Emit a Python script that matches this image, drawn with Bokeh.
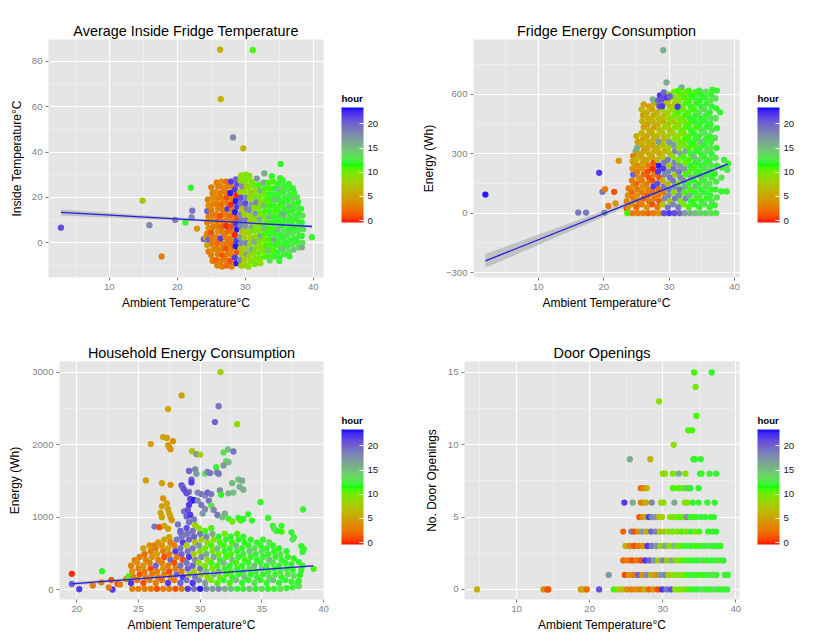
from bokeh.embed import file_html
from bokeh.resources import INLINE
from bokeh.plotting import figure
from bokeh.layouts import column, row
from bokeh.models import ColumnDataSource, ColorBar, LinearColorMapper, FixedTicker
from bokeh.transform import transform

FONT = "Liberation Sans"

# (ambient temperature, value, hour)
inside_temp_pts = [
    (26.3, 85.2, 6), (31.1, 85, 11), (26.4, 63.4, 6), (28.2, 46.5, 18), (29.7, 41.7, 6),
    (14.9, 18.6, 7), (22, 24.3, 12), (22.2, 14.2, 19), (22.1, 11.2, 18), (19.7, 10.1, 18),
    (21.2, 9, 12), (15.9, 7.8, 18), (2.9, 6.7, 21), (17.7, -6, 3), (22.9, 6.3, 4),
    (23.9, 1.6, 20), (24.2, 2.3, 5), (39.8, 2.5, 12), (35.2, 34.8, 12), (33.9, 29.4, 12),
    (32.8, 30.6, 16), (31.7, 28.3, 17), (30.1, 30.1, 10), (29.4, 29.8, 9), (30.6, 29.5, 9),
    (24.6, -3.8, 3), (24.4, -1, 5), (24.6, 1.5, 20), (24.4, 4, 3), (24.6, 6.5, 4),
    (24.4, 9, 3), (24.6, 11.5, 3), (24.4, 14, 20), (24.6, 16.5, 4), (24.5, 19, 3),
    (25.2, -8, 3), (25.0, -5.5, 3), (25.3, -3, 4), (25.1, -0.5, 3), (25.2, 2, 3),
    (25.0, 4.5, 1), (25.3, 7, 3), (25.1, 9.5, 4), (25.2, 12, 3), (25.0, 14.5, 3),
    (25.3, 17, 3), (25.1, 19.5, 4), (25.2, 22, 3), (25.0, 24.5, 3),
    (25.9, -10, 3), (25.7, -7.5, 2), (26, -5, 3), (25.8, -2.5, 3), (25.9, 0, 2),
    (25.7, 2.5, 3), (26, 5, 4), (25.8, 7.5, 3), (25.9, 10, 2), (25.7, 12.5, 3),
    (26, 15, 3), (25.8, 17.5, 3), (25.9, 20, 3), (25.7, 22.5, 4), (26, 25, 3), (25.8, 26.5, 3),
    (26.6, -10.5, 3), (26.4, -8, 3), (26.7, -5.5, 1), (26.5, -3, 3), (26.6, -0.5, 3),
    (26.4, 2, 22), (26.7, 4.5, 3), (26.5, 7, 2), (26.6, 9.5, 3), (26.4, 12, 1),
    (26.7, 14.5, 3), (26.5, 17, 2), (26.6, 19.5, 3), (26.4, 22, 3), (26.7, 24.5, 3), (26.5, 27, 4),
    (27.3, -10, 2), (27.1, -7.5, 3), (27.4, -5, 3), (27.2, -2.5, 1), (27.3, 0, 3),
    (27.1, 2.5, 3), (27.4, 5, 2), (27.2, 7.5, 0), (27.3, 10, 3), (27.1, 12.5, 3),
    (27.4, 15, 22), (27.2, 17.5, 3), (27.3, 20, 1), (27.1, 22.5, 3), (27.4, 25, 3), (27.2, 27, 2),
    (28, -10.5, 3), (27.8, -8, 1), (28.1, -5.5, 3), (27.9, -3, 3), (28, -0.5, 2),
    (27.8, 2, 3), (28.1, 4.5, 3), (27.9, 7, 1), (28, 9.5, 3), (27.8, 12, 2),
    (28.1, 14.5, 3), (27.9, 17, 0), (28, 19.5, 3), (27.8, 22, 23), (28.1, 24.5, 3), (27.9, 27, 22),
    (28.7, -9, 23), (28.5, -6.5, 22), (28.8, -4, 1), (28.6, -1.5, 23), (28.7, 1, 22),
    (28.5, 3.5, 0), (28.8, 6, 23), (28.6, 8.5, 22), (28.7, 11, 1), (28.5, 13.5, 23),
    (28.8, 16, 22), (28.6, 18.5, 23), (28.7, 21, 0), (28.5, 23.5, 22), (28.8, 26, 21), (28.6, 28, 20),
    (29.4, -10, 7), (29.2, -7.5, 18), (29.5, -5, 8), (29.3, -2.5, 7), (29.4, 0, 18),
    (29.2, 2.5, 17), (29.5, 5, 7), (29.3, 7.5, 18), (29.4, 10, 19), (29.2, 12.5, 18),
    (29.5, 15, 7), (29.3, 17.5, 19), (29.4, 20, 21), (29.2, 22.5, 8), (29.5, 25, 18), (29.3, 27.5, 9),
    (30.1, -10, 9), (29.9, -7.5, 8), (30.2, -5, 17), (30, -2.5, 8), (30.1, 0, 18),
    (29.9, 2.5, 8), (30.2, 5, 7), (30, 7.5, 17), (30.1, 10, 19), (29.9, 12.5, 8),
    (30.2, 15, 18), (30, 17.5, 21), (30.1, 20, 18), (29.9, 22.5, 9), (30.2, 25, 8), (30, 27.5, 10),
    (30.8, -8, 9), (30.6, -5.5, 8), (30.9, -3, 16), (30.7, -0.5, 9), (30.8, 2, 8),
    (30.6, 4.5, 9), (30.9, 7, 16), (30.7, 9.5, 8), (30.8, 12, 9), (30.6, 14.5, 18),
    (30.9, 17, 17), (30.7, 19.5, 9), (30.8, 22, 8), (30.6, 24.5, 9), (30.9, 27, 10),
    (31.5, -7, 10), (31.3, -4.5, 9), (31.6, -2, 9), (31.4, 0.5, 16), (31.5, 3, 9),
    (31.3, 5.5, 10), (31.6, 8, 9), (31.4, 10.5, 9), (31.5, 13, 17), (31.3, 15.5, 9),
    (31.6, 18, 18), (31.4, 20.5, 10), (31.5, 23, 9), (31.3, 25.5, 10),
    (32.2, -7, 10), (32, -4.5, 10), (32.3, -2, 9), (32.1, 0.5, 10), (32.2, 3, 16),
    (32, 5.5, 10), (32.3, 8, 10), (32.1, 10.5, 16), (32.2, 13, 10), (32, 15.5, 10),
    (32.3, 18, 9), (32.1, 20.5, 10), (32.2, 23, 16), (32, 25.5, 11),
    (32.9, -6, 11), (32.7, -3.5, 10), (33, -1, 11), (32.8, 1.5, 10), (32.9, 4, 11),
    (32.7, 6.5, 15), (33, 9, 11), (32.8, 11.5, 10), (32.9, 14, 11), (32.7, 16.5, 15),
    (33, 19, 11), (32.8, 21.5, 10), (32.9, 24, 11), (32.7, 26.5, 16),
    (33.6, -6, 11), (33.4, -3.5, 15), (33.7, -1, 11), (33.5, 1.5, 11), (33.6, 4, 12),
    (33.4, 6.5, 11), (33.7, 9, 11), (33.5, 11.5, 15), (33.6, 14, 12), (33.4, 16.5, 11),
    (33.7, 19, 11), (33.5, 21.5, 12), (33.6, 24, 11), (33.4, 26.5, 11),
    (34.3, -6, 12), (34.1, -3.5, 11), (34.4, -1, 12), (34.2, 1.5, 16), (34.3, 4, 12),
    (34.1, 6.5, 11), (34.4, 9, 12), (34.2, 11.5, 12), (34.3, 14, 11), (34.1, 16.5, 12),
    (34.4, 19, 15), (34.2, 21.5, 12), (34.3, 24, 12), (34.1, 27, 11),
    (35, -6.5, 12), (34.8, -4, 12), (35.1, -1.5, 11), (34.9, 1, 12), (35, 3.5, 12),
    (34.8, 6, 15), (35.1, 8.5, 12), (34.9, 11, 12), (35, 13.5, 12), (34.8, 16, 11),
    (35.1, 18.5, 12), (34.9, 21, 12), (35, 23.5, 15), (34.8, 26, 12), (35.1, 28.5, 12),
    (35.7, -5, 12), (35.5, -2.5, 15), (35.8, 0, 12), (35.6, 2.5, 12), (35.7, 5, 13),
    (35.5, 7.5, 12), (35.8, 10, 12), (35.6, 12.5, 16), (35.7, 15, 12), (35.5, 17.5, 12),
    (35.8, 20, 13), (35.6, 22.5, 12), (35.7, 25, 12), (35.5, 27.5, 12),
    (36.4, -4, 13), (36.2, -1.5, 12), (36.5, 1, 12), (36.3, 3.5, 13), (36.4, 6, 12),
    (36.2, 8.5, 13), (36.5, 11, 12), (36.3, 13.5, 12), (36.4, 16, 15), (36.2, 18.5, 12),
    (36.5, 21, 12), (36.3, 23.5, 13), (36.4, 26, 12),
    (37.1, -3, 15), (36.9, -0.5, 13), (37.2, 2, 12), (37, 4.5, 13), (37.1, 7, 12),
    (36.9, 9.5, 12), (37.2, 12, 13), (37, 14.5, 12), (37.1, 17, 12), (36.9, 19.5, 13),
    (37.2, 22, 12), (37, 24, 12),
    (37.8, -2, 13), (37.6, 0.5, 12), (37.9, 3, 13), (37.7, 5.5, 12), (37.8, 8, 13),
    (37.6, 10.5, 12), (37.9, 13, 12), (37.7, 15.5, 13), (37.8, 18, 12), (37.6, 20, 13),
    (38.4, 0, 13), (38.3, 3, 12), (38.5, 6, 13), (38.3, 9, 12), (38.4, 12, 13),
    (38.2, 15, 12), (38.3, -2, 16), (36.5, -6, 12), (35, -8, 12), (33.6, -7.8, 13),
    (32.2, -9, 9), (31.4, -9.3, 10), (30.5, -10.5, 9),
]

fridge_energy_pts = [
    (29.1, 824, 16), (29.6, 661, 16), (31.9, 636, 16), (1.9, 94, 23), (19.3, 204, 22),
    (16.1, 3, 19), (17.3, 3, 19), (19.8, 108, 19), (20.2, 121, 3), (21.6, 108, 1),
    (20.7, 37, 3), (21.8, 49, 4), (20.1, 3, 18), (22.3, 265, 4), (24.5, 290, 3),
    (24.9, 314, 16), (24.4, 262, 5), (23.5, 24, 1),
    (23.6, 0, 11), (23.7, 30, 4), (23.5, 60, 3), (23.7, 90, 4), (23.8, 125, 3),
    (24.4, 0, 3), (24.3, 45, 4), (24.5, 75, 3), (24.3, 105, 2), (24.5, 135, 4),
    (24.3, 165, 3), (24.5, 195, 20), (24.4, 225, 4), (24.6, 255, 5),
    (25.2, 0, 3), (25.0, 30, 2), (25.3, 60, 3), (25.1, 90, 4), (25.2, 120, 3),
    (25.0, 150, 2), (25.3, 180, 4), (25.1, 210, 3), (25.2, 240, 4), (25.0, 270, 6),
    (25.3, 300, 5), (25.1, 330, 16), (25.2, 360, 5), (25.0, 390, 6),
    (26, 0, 3), (25.8, 45, 3), (26.1, 75, 1), (25.9, 105, 3), (26, 135, 4),
    (25.8, 165, 3), (26.1, 195, 2), (25.9, 225, 4), (26, 255, 5), (25.8, 285, 5),
    (26.1, 315, 5), (25.9, 345, 6), (26, 375, 5), (25.8, 405, 6), (26.1, 435, 5),
    (25.9, 465, 6), (26, 495, 5), (25.8, 525, 6), (26.1, 550, 5),
    (26.8, 0, 2), (26.6, 30, 4), (26.9, 60, 3), (26.7, 90, 1), (26.8, 120, 3),
    (26.6, 150, 3), (26.9, 180, 1), (26.7, 210, 1), (26.8, 240, 3), (26.6, 270, 5),
    (26.9, 300, 6), (26.7, 330, 5), (26.8, 360, 6), (26.6, 390, 5), (26.9, 420, 6),
    (26.7, 450, 5), (26.8, 480, 6), (26.6, 510, 6), (26.9, 540, 5),
    (27.6, 0, 3), (27.4, 45, 1), (27.7, 75, 3), (27.5, 105, 2), (27.6, 135, 22),
    (27.4, 165, 1), (27.7, 195, 3), (27.5, 225, 0), (27.6, 255, 1), (27.4, 285, 5),
    (27.7, 315, 6), (27.5, 345, 5), (27.6, 375, 6), (27.4, 405, 6), (27.7, 435, 5),
    (27.5, 465, 6), (27.6, 495, 6), (27.4, 525, 5), (27.7, 555, 6), (27.5, 575, 16),
    (28.4, 0, 4), (28.2, 30, 3), (28.5, 60, 1), (28.3, 90, 3), (28.4, 120, 2),
    (28.2, 150, 21), (28.5, 180, 1), (28.3, 210, 22), (28.4, 240, 23), (28.2, 270, 6),
    (28.5, 300, 5), (28.3, 330, 6), (28.4, 360, 17), (28.2, 390, 6), (28.5, 420, 7),
    (28.3, 450, 6), (28.4, 480, 7), (28.2, 510, 6), (28.5, 540, 21), (28.3, 570, 20), (28.6, 595, 22),
    (29.2, 0, 21), (29, 45, 7), (29.3, 75, 18), (29.1, 105, 3), (29.2, 135, 19),
    (29, 165, 6), (29.3, 195, 18), (29.1, 225, 22), (29.2, 255, 19), (29, 285, 7),
    (29.3, 315, 6), (29.1, 345, 7), (29.2, 375, 6), (29, 405, 7), (29.3, 435, 8),
    (29.1, 465, 6), (29.2, 495, 7), (29, 525, 8), (29.3, 555, 7), (29.1, 585, 21), (29.2, 610, 20),
    (30, 0, 22), (29.8, 30, 19), (30.1, 60, 8), (29.9, 90, 18), (30, 120, 19),
    (29.8, 150, 7), (30.1, 180, 19), (29.9, 210, 18), (30, 240, 8), (29.8, 270, 19),
    (30.1, 300, 7), (29.9, 330, 8), (30, 360, 17), (29.8, 390, 8), (30.1, 420, 7),
    (29.9, 450, 8), (30, 480, 9), (29.8, 510, 8), (30.1, 540, 7), (29.9, 570, 8), (30, 600, 9),
    (30.8, 0, 21), (30.6, 45, 18), (30.9, 75, 19), (30.7, 105, 9), (30.8, 135, 18),
    (30.6, 165, 19), (30.9, 195, 8), (30.7, 225, 19), (30.8, 255, 18), (30.6, 285, 9),
    (30.9, 315, 18), (30.7, 345, 17), (30.8, 375, 9), (30.6, 405, 8), (30.9, 435, 9),
    (30.7, 465, 8), (30.8, 495, 10), (30.6, 525, 9), (30.9, 555, 8), (30.7, 585, 9),
    (30.8, 615, 10),
    (31.6, 0, 20), (31.4, 30, 19), (31.7, 60, 10), (31.5, 90, 18), (31.6, 120, 19),
    (31.4, 150, 10), (31.7, 180, 18), (31.5, 210, 19), (31.6, 240, 17), (31.4, 270, 10),
    (31.7, 300, 16), (31.5, 330, 9), (31.6, 360, 10), (31.4, 390, 9), (31.7, 420, 10),
    (31.5, 450, 9), (31.6, 480, 10), (31.4, 510, 11), (31.7, 540, 10), (31.5, 570, 9),
    (31.6, 600, 10), (31.4, 620, 11),
    (32.4, 0, 17), (32.2, 45, 10), (32.5, 75, 18), (32.3, 105, 11), (32.4, 135, 16),
    (32.2, 165, 18), (32.5, 195, 11), (32.3, 225, 17), (32.4, 255, 10), (32.2, 285, 11),
    (32.5, 315, 16), (32.3, 345, 10), (32.4, 375, 11), (32.2, 405, 10), (32.5, 435, 11),
    (32.3, 465, 10), (32.4, 495, 11), (32.2, 525, 10), (32.5, 555, 11), (32.3, 585, 11), (32.4, 612, 10),
    (33.2, 0, 16), (33, 30, 11), (33.3, 60, 12), (33.1, 90, 16), (33.2, 120, 11),
    (33, 150, 12), (33.3, 180, 16), (33.1, 210, 11), (33.2, 240, 12), (33, 270, 11),
    (33.3, 300, 12), (33.1, 330, 11), (33.2, 360, 12), (33, 390, 11), (33.3, 420, 12),
    (33.1, 450, 11), (33.2, 480, 12), (33, 510, 11), (33.3, 540, 12), (33.1, 570, 11),
    (33.2, 600, 12), (33, 620, 11),
    (34, 0, 15), (33.8, 45, 12), (34.1, 75, 11), (33.9, 105, 12), (34, 135, 15),
    (33.8, 165, 12), (34.1, 195, 12), (33.9, 225, 11), (34, 255, 12), (33.8, 285, 15),
    (34.1, 315, 12), (33.9, 345, 11), (34, 375, 12), (33.8, 405, 12), (34.1, 435, 11),
    (33.9, 465, 12), (34, 495, 12), (33.8, 525, 11), (34.1, 555, 12), (33.9, 585, 12), (34, 612, 11),
    (34.8, 0, 14), (34.6, 30, 12), (34.9, 60, 12), (34.7, 90, 13), (34.8, 120, 12),
    (34.6, 150, 12), (34.9, 180, 15), (34.7, 210, 12), (34.8, 240, 12), (34.6, 270, 13),
    (34.9, 300, 12), (34.7, 330, 12), (34.8, 360, 15), (34.6, 390, 12), (34.9, 420, 13),
    (34.7, 450, 12), (34.8, 480, 12), (34.6, 510, 13), (34.9, 540, 12), (34.7, 570, 12),
    (34.8, 600, 12), (34.6, 620, 12),
    (35.6, 0, 14), (35.4, 45, 13), (35.7, 75, 12), (35.5, 105, 12), (35.6, 135, 13),
    (35.4, 165, 12), (35.7, 195, 12), (35.5, 225, 13), (35.6, 255, 12), (35.4, 285, 12),
    (35.7, 315, 13), (35.5, 345, 12), (35.6, 375, 12), (35.4, 405, 13), (35.7, 435, 12),
    (35.5, 465, 12), (35.6, 495, 12), (35.4, 525, 13), (35.7, 555, 12), (35.5, 585, 12),
    (35.6, 615, 13),
    (36.4, 0, 13), (36.2, 30, 12), (36.5, 60, 13), (36.3, 90, 12), (36.4, 120, 12),
    (36.2, 150, 13), (36.5, 180, 12), (36.3, 210, 12), (36.4, 240, 13), (36.2, 270, 12),
    (36.5, 300, 12), (36.3, 330, 13), (36.4, 360, 12), (36.2, 390, 12), (36.5, 420, 13),
    (36.3, 450, 12), (36.4, 480, 13), (36.2, 510, 12), (36.5, 540, 12), (36.3, 570, 13),
    (36.4, 600, 12), (36.6, 625, 12),
    (37.2, 0, 13), (37, 40, 12), (37.3, 80, 13), (37.1, 120, 12), (37.2, 160, 13),
    (37, 200, 12), (37.3, 240, 12), (37.1, 280, 13), (37.2, 330, 12), (37, 380, 13),
    (37.3, 430, 12), (37.1, 480, 13), (37.2, 530, 12), (37.1, 580, 13), (37.3, 620, 12),
    (38, 110, 12), (38, 180, 13), (38.1, 230, 12), (38.4, 270, 12), (37.8, 510, 12),
    (38.8, 110, 12), (38.9, 220, 13), (39, 250, 12),
    (28.9, 541, 22), (31.3, 538, 22), (29.7, 585, 22), (28.8, 575, 21), (30.1, 590, 20),
]

household_energy_pts = [
    (31.65, 3006, 8), (28.5, 2683, 5), (27.4, 2494, 5), (31.5, 2535, 19), (31.2, 2314, 20),
    (33, 2286, 9), (26, 2010, 5), (27, 2107, 5), (27.3, 2095, 5), (27.4, 1995, 5),
    (27.5, 1965, 5), (27.6, 1940, 4), (27.8, 2050, 4), (29.35, 1913, 7), (29.7, 1870, 17),
    (30, 1866, 8), (31.9, 1895, 13), (32.25, 1936, 15), (32.7, 1908, 19), (32.1, 1775, 13),
    (32.3, 1760, 15), (31.9, 1716, 17), (30.4, 1600, 13), (29.1, 1640, 20), (29.6, 1660, 18),
    (29.7, 1600, 17), (30.6, 1625, 18), (30.8, 1610, 19), (31.3, 1690, 12), (31.35, 1620, 18),
    (31.5, 1600, 19), (33.1, 1521, 15), (33.2, 1420, 16), (33.5, 1380, 16), (33.4, 1505, 16),
    (32.6, 1470, 15), (25.6, 1508, 5), (26.9, 1470, 5), (27.6, 1448, 4), (28.5, 1440, 21),
    (28.6, 1410, 20), (28.7, 1380, 21), (29.3, 1520, 20), (29.3, 1480, 22), (29.1, 1350, 19),
    (28.9, 1330, 21), (29.8, 1340, 18), (30.1, 1320, 19), (30.4, 1300, 18), (30.6, 1340, 20),
    (30.9, 1320, 19), (31.6, 1370, 18), (31.7, 1310, 12), (32.3, 1330, 16), (32.7, 1340, 15),
    (29.2, 1250, 22), (29.3, 1225, 21), (29.5, 1235, 23), (34.9, 1208, 12), (38.35, 1106, 12),
    (26.9, 1000, 5), (26.8, 1060, 5), (26.9, 1150, 5), (27, 1260, 4), (27.3, 1190, 5),
    (27.4, 1110, 5), (27.5, 1050, 5), (27.6, 1000, 5), (27.7, 960, 4), (28.7, 1080, 19),
    (28.9, 1010, 20), (29.1, 1170, 22), (29, 1100, 21), (29.2, 1030, 22), (29.8, 1230, 18),
    (30.1, 1170, 19), (30.4, 1110, 18), (30.2, 1050, 17), (30.7, 1230, 19), (30.9, 1160, 13),
    (31.1, 1100, 18), (31.4, 1030, 19), (31.8, 1000, 15), (32, 1050, 16), (32.3, 980, 12),
    (32.6, 940, 10), (33.1, 990, 12), (33.3, 953, 11), (33.5, 975, 12), (33.9, 1040, 12),
    (34.2, 953, 12), (35.5, 990, 12), (35.9, 880, 12), (36, 840, 13), (36.2, 810, 12),
    (36.6, 880, 12), (36.6, 800, 11), (37.4, 790, 12), (37.6, 720, 12), (37.5, 690, 13),
    (38.4, 560, 12), (38.3, 520, 12), (38.2, 600, 12), (26.3, 870, 19), (26.7, 862, 1),
    (27.1, 880, 5), (27.4, 840, 5), (27.5, 725, 5), (26.3, 610, 3), (28.4, 790, 20),
    (28.7, 760, 19), (28.2, 900, 19),
    (19.6, 217, 0), (19.6, 76, 20), (20.2, 5, 22), (22.05, 253, 12), (22, 100, 3),
    (21.3, 55, 3), (22.8, 130, 1), (22.9, 0, 22), (22.6, 28, 3), (23.3, 78, 1),
    (23.5, 70, 3), (24, 145, 3), (24.2, 182, 11), (24.7, 405, 3), (39.2, 286, 11),
    (38.3, 330, 12), (38.2, 270, 12), (37.9, 90, 12), (38, 45, 13),
    (24.5, 10, 3), (24.4, 90, 22), (24.6, 170, 3), (24.5, 250, 4), (24.4, 330, 3),
    (25, 10, 3), (24.9, 130, 3), (25.1, 210, 1), (25, 290, 3), (24.9, 370, 4), (25.1, 450, 3),
    (25.5, 10, 3), (25.4, 90, 1), (25.6, 170, 3), (25.5, 250, 3), (25.4, 330, 4),
    (25.6, 410, 3), (25.5, 490, 2), (25.4, 570, 5),
    (26, 10, 3), (25.9, 130, 3), (26.1, 210, 3), (26, 290, 1), (25.9, 370, 3),
    (26.1, 450, 4), (26, 530, 3), (25.9, 610, 4),
    (26.5, 10, 1), (26.4, 90, 3), (26.6, 170, 3), (26.5, 250, 3), (26.4, 330, 20),
    (26.6, 410, 3), (26.5, 490, 5), (26.4, 570, 3), (26.6, 650, 4),
    (27, 10, 3), (26.9, 130, 2), (27.1, 210, 3), (27, 290, 4), (26.9, 370, 3),
    (27.1, 450, 1), (27, 530, 3), (26.9, 610, 4), (27.1, 690, 5),
    (27.5, 10, 3), (27.4, 90, 22), (27.6, 170, 3), (27.5, 250, 1), (27.4, 330, 3),
    (27.6, 410, 20), (27.5, 490, 3), (27.4, 570, 5), (27.6, 650, 3),
    (28, 10, 1), (27.9, 130, 3), (28.1, 210, 20), (28, 290, 3), (27.9, 370, 1),
    (28.1, 450, 3), (28, 530, 22), (27.9, 610, 3), (28.1, 690, 19),
    (28.5, 10, 3), (28.4, 90, 20), (28.6, 170, 22), (28.5, 250, 3), (28.4, 330, 19),
    (28.6, 410, 1), (28.5, 490, 20), (28.4, 570, 19), (28.6, 650, 22), (28.5, 730, 19), (28.4, 810, 20),
    (29, 10, 22), (28.9, 130, 19), (29.1, 210, 8), (29, 290, 20), (28.9, 370, 19),
    (29.1, 450, 22), (29, 530, 19), (28.9, 610, 8), (29.1, 690, 20), (29, 770, 19),
    (28.9, 850, 21), (29.1, 930, 19),
    (29.5, 10, 19), (29.4, 90, 22), (29.6, 170, 19), (29.5, 250, 8), (29.4, 330, 20),
    (29.6, 410, 18), (29.5, 490, 8), (29.4, 570, 19), (29.6, 650, 7), (29.5, 730, 20),
    (29.4, 810, 19), (29.6, 890, 8), (29.5, 970, 19),
    (30, 10, 23), (29.9, 130, 18), (30.1, 210, 8), (30, 290, 19), (29.9, 370, 9),
    (30.1, 450, 18), (30, 530, 9), (29.9, 610, 17), (30.1, 690, 8), (30, 770, 19),
    (29.9, 850, 9),
    (30.5, 10, 18), (30.4, 90, 17), (30.6, 170, 9), (30.5, 250, 15), (30.4, 330, 10),
    (30.6, 410, 9), (30.5, 490, 16), (30.4, 570, 10), (30.6, 650, 9), (30.5, 730, 18), (30.4, 810, 11),
    (31, 10, 17), (30.9, 130, 10), (31.1, 210, 15), (31, 290, 10), (30.9, 370, 11),
    (31.1, 450, 16), (31, 530, 10), (30.9, 610, 11), (31.1, 690, 9), (31, 770, 16), (30.9, 850, 11),
    (31.5, 10, 18), (31.4, 90, 11), (31.6, 170, 10), (31.5, 250, 16), (31.4, 330, 11),
    (31.6, 410, 12), (31.5, 490, 10), (31.4, 570, 15), (31.6, 650, 11), (31.5, 730, 12),
    (32, 10, 16), (31.9, 130, 12), (32.1, 210, 11), (32, 290, 12), (31.9, 370, 15),
    (32.1, 450, 11), (32, 530, 12), (31.9, 610, 11), (32.1, 690, 12), (32, 770, 10),
    (32.5, 10, 15), (32.4, 90, 11), (32.6, 170, 12), (32.5, 250, 11), (32.4, 330, 12),
    (32.6, 410, 15), (32.5, 490, 11), (32.4, 570, 12), (32.6, 650, 11), (32.5, 730, 12),
    (33, 10, 12), (32.9, 130, 15), (33.1, 210, 12), (33, 290, 12), (32.9, 370, 11),
    (33.1, 450, 12), (33, 530, 12), (32.9, 610, 15), (33.1, 690, 12), (33, 770, 11),
    (33.5, 10, 12), (33.4, 90, 12), (33.6, 170, 15), (33.5, 250, 12), (33.4, 330, 12),
    (33.6, 410, 11), (33.5, 490, 12), (33.4, 570, 12), (33.6, 650, 12), (33.5, 730, 12),
    (34, 10, 15), (33.9, 130, 12), (34.1, 210, 12), (34, 290, 13), (33.9, 370, 12),
    (34.1, 450, 12), (34, 530, 15), (33.9, 610, 12), (34.1, 690, 12),
    (34.5, 10, 12), (34.4, 90, 13), (34.6, 170, 12), (34.5, 250, 12), (34.4, 330, 15),
    (34.6, 410, 12), (34.5, 490, 12), (34.4, 570, 13), (34.6, 650, 12),
    (35, 10, 13), (34.9, 130, 12), (35.1, 210, 12), (35, 290, 15), (34.9, 370, 12),
    (35.1, 450, 12), (35, 530, 13), (34.9, 610, 12), (35.1, 690, 12),
    (35.5, 10, 12), (35.4, 90, 12), (35.6, 170, 13), (35.5, 250, 12), (35.4, 330, 12),
    (35.6, 410, 15), (35.5, 490, 12), (35.4, 570, 12), (35.6, 650, 13),
    (36, 10, 12), (35.9, 130, 15), (36.1, 210, 12), (36, 290, 12), (35.9, 370, 13),
    (36.1, 450, 12), (36, 530, 12), (35.9, 610, 12),
    (36.5, 10, 13), (36.4, 90, 12), (36.6, 170, 12), (36.5, 250, 13), (36.4, 330, 12),
    (36.6, 410, 12), (36.5, 490, 13), (36.4, 570, 12),
    (37, 20, 12), (36.9, 130, 12), (37.1, 210, 13), (37, 290, 12), (36.9, 370, 12),
    (37.1, 450, 12), (37, 530, 12),
    (37.5, 30, 12), (37.4, 110, 12), (37.6, 190, 13), (37.5, 270, 12), (37.4, 350, 12),
    (37.6, 430, 12),
    (38, 120, 12), (38.1, 200, 12), (38, 380, 12),
]

door_open_pts = [
    (4.6, 0, 6), (13.7, 0, 4), (14.2, 0, 1), (14.35, 0, 1), (18.8, 0, 4), (19.1, 0, 6),
    (19.6, 0, 2), (21.3, 0, 21),
    (23.3, 0, 11), (23.9, 0, 8), (24.5, 0, 7), (25.1, 0, 4), (25.7, 0, 3), (26.3, 0, 4),
    (26.9, 0, 3), (27.5, 0, 6), (28.1, 0, 2), (28.7, 0, 4), (29.3, 0, 1), (29.9, 0, 22),
    (30.5, 0, 19), (31.1, 0, 21), (31.7, 0, 9), (32.3, 0, 10), (32.9, 0, 9), (33.5, 0, 11),
    (34.1, 0, 12), (34.7, 0, 12), (35.3, 0, 13), (35.9, 0, 12), (36.5, 0, 12), (37.1, 0, 13),
    (37.7, 0, 12), (38.3, 0, 12), (38.8, 0, 12),
    (22.6, 1, 17), (24.8, 1, 1), (25.4, 1, 4), (26, 1, 3), (26.6, 1, 20), (27.2, 1, 4),
    (27.8, 1, 18), (28.4, 1, 6), (29, 1, 4), (29.6, 1, 17), (30.2, 1, 18), (30.8, 1, 8),
    (31.4, 1, 9), (32, 1, 10), (32.6, 1, 9), (33.2, 1, 11), (33.8, 1, 12), (34.4, 1, 12),
    (35, 1, 11), (35.6, 1, 12), (36.2, 1, 12), (36.8, 1, 13), (37.3, 1, 12), (38.5, 1, 12),
    (38.9, 1, 12),
    (24.6, 2, 2), (25.2, 2, 3), (25.8, 2, 1), (26.4, 2, 3), (27, 2, 1), (27.6, 2, 22),
    (28.2, 2, 20), (28.8, 2, 17), (29.4, 2, 8), (30, 2, 18), (30.6, 2, 8), (31.2, 2, 16),
    (31.8, 2, 9), (32.4, 2, 10), (33, 2, 11), (33.6, 2, 12), (34.2, 2, 12), (34.8, 2, 12),
    (35.4, 2, 13), (36, 2, 12), (36.6, 2, 12), (37.2, 2, 12), (37.8, 2, 13), (38.3, 2, 12),
    (24.9, 3, 6), (25.5, 3, 3), (26.1, 3, 1), (26.7, 3, 3), (27.3, 3, 4), (27.9, 3, 22),
    (28.5, 3, 19), (29.1, 3, 17), (29.7, 3, 8), (30.3, 3, 16), (30.9, 3, 9), (31.5, 3, 15),
    (32.1, 3, 10), (32.7, 3, 11), (33.3, 3, 12), (33.9, 3, 12), (34.5, 3, 11), (35.1, 3, 12),
    (35.7, 3, 12), (36.3, 3, 13), (36.9, 3, 12), (37.5, 3, 12), (37.9, 3, 12),
    (24.6, 4, 2), (25.7, 4, 18), (26.1, 4, 1), (26.6, 4, 4), (27.2, 4, 17), (27.8, 4, 6),
    (28.4, 4, 20), (29, 4, 18), (29.6, 4, 7), (30.2, 4, 8), (30.8, 4, 9), (31.4, 4, 10),
    (32, 4, 9), (32.6, 4, 11), (33.2, 4, 9), (33.8, 4, 12), (34.4, 4, 10), (35, 4, 11),
    (36.2, 4, 12), (36.8, 4, 12), (37.3, 4, 12),
    (26.8, 5, 1), (27.2, 5, 4), (27.7, 5, 6), (28.1, 5, 22), (28.5, 5, 18), (29, 5, 17),
    (29.5, 5, 7), (29.9, 5, 8), (31, 5, 9), (31.4, 5, 10), (31.8, 5, 9), (32.3, 5, 11),
    (32.8, 5, 10), (33.3, 5, 18), (33.8, 5, 12), (34.2, 5, 11), (34.6, 5, 12), (35.2, 5, 12),
    (35.8, 5, 12), (36.5, 5, 12), (37, 5, 12),
    (24.75, 6, 22), (25.9, 6, 16), (27, 6, 3), (27.4, 6, 4), (27.7, 6, 6), (28.5, 6, 18),
    (29.8, 6, 8), (30.1, 6, 9), (31.6, 6, 16), (33, 6, 9), (33.4, 6, 10), (34.1, 6, 12),
    (34.9, 6, 12), (36.1, 6, 12), (37.1, 6, 12),
    (27, 7, 2), (27.3, 7, 3), (27.8, 7, 6), (31.4, 7, 11), (32.1, 7, 11), (32.5, 7, 10),
    (33.1, 7, 12), (33.5, 7, 15), (33.8, 7, 12), (34.9, 7, 12),
    (30, 8, 9), (30.3, 8, 9), (31.4, 8, 10), (32.2, 8, 16), (33.1, 8, 9), (35.1, 8, 12),
    (35.3, 8, 12), (36.4, 8, 12), (37.3, 8, 12),
    (25.5, 9, 16), (28.3, 9, 6), (34.2, 9, 12), (34.4, 9, 12), (35.2, 9, 12),
    (31.5, 10, 9), (33.5, 11, 11), (34, 11, 11), (34.6, 12, 11), (29.5, 13, 9),
    (34.5, 14, 10), (34.3, 15, 11), (36.7, 15, 12),
]

# linear fits with their confidence band: x, fit, lower, upper
inside_fit_x = [2.9, 29.0, 39.8]
inside_fit_y = [13.4, 9.0, 7.2]
inside_fit_lo = [12.1, 8.7, 6.8]
inside_fit_hi = [14.7, 9.3, 7.6]

fridge_fit_x = [1.9, 29.0, 38.96]
fridge_fit_y = [-241, 116.5, 248]
fridge_fit_lo = [-276, 111, 238]
fridge_fit_hi = [-206, 122, 258]

house_fit_x = [19.55, 30.0, 39.16]
house_fit_y = [79, 212, 328]
house_fit_lo = [54, 206, 313]
house_fit_hi = [104, 218, 343]

hour_ticks = [0, 5, 10, 15, 20]


def hex_to_lab(c):
    rgb = [int(c[i:i + 2], 16) / 255 for i in (1, 3, 5)]
    lin = [v / 12.92 if v <= 0.04045 else ((v + 0.055) / 1.055) ** 2.4 for v in rgb]
    x = (0.4124 * lin[0] + 0.3576 * lin[1] + 0.1805 * lin[2]) / 0.95047
    y = 0.2126 * lin[0] + 0.7152 * lin[1] + 0.0722 * lin[2]
    z = (0.0193 * lin[0] + 0.1192 * lin[1] + 0.9505 * lin[2]) / 1.08883
    f = lambda t: t ** (1 / 3) if t > 0.008856 else 7.787 * t + 16 / 116
    fx, fy, fz = f(x), f(y), f(z)
    return 116 * fy - 16, 500 * (fx - fy), 200 * (fy - fz)


def lab_to_hex(L, a, b):
    fy = (L + 16) / 116
    fx = fy + a / 500
    fz = fy - b / 200
    finv = lambda t: t ** 3 if t ** 3 > 0.008856 else (t - 16 / 116) / 7.787
    x, y, z = finv(fx) * 0.95047, finv(fy), finv(fz) * 1.08883
    lin = [3.2406 * x - 1.5372 * y - 0.4986 * z,
           -0.9689 * x + 1.8758 * y + 0.0415 * z,
           0.0557 * x - 0.2040 * y + 1.0570 * z]
    out = []
    for v in lin:
        v = 12.92 * v if v <= 0.0031308 else 1.055 * v ** (1 / 2.4) - 0.055
        out.append(min(255, max(0, round(v * 255))))
    return "#%02x%02x%02x" % tuple(out)


def lab_palette(stops, n=256):
    labs = [hex_to_lab(c) for c in stops]
    pal = []
    for i in range(n):
        t = i / (n - 1) * (len(labs) - 1)
        k = min(int(t), len(labs) - 2)
        f = t - k
        pal.append(lab_to_hex(*[labs[k][j] + (labs[k + 1][j] - labs[k][j]) * f for j in range(3)]))
    return pal


hour_mapper = LinearColorMapper(palette=lab_palette(["#FF0000", "#00FF00", "#0000FF"]),
                                low=-0.4, high=23.4)


def style_axis(ax, ticks, minor, label, standoff):
    ax.ticker = FixedTicker(ticks=ticks, minor_ticks=minor)
    ax.axis_label = label
    ax.axis_line_color = None
    ax.major_tick_line_color = "#7F7F7F"
    ax.major_tick_out = 3
    ax.major_tick_in = 0
    ax.minor_tick_line_color = None
    ax.major_label_standoff = 2
    ax.major_label_text_color = "#7F7F7F"
    ax.major_label_text_font = FONT
    ax.major_label_text_font_size = "9.6px"
    ax.axis_label_text_font = FONT
    ax.axis_label_text_font_size = "12px"
    ax.axis_label_text_font_style = "normal"
    ax.axis_label_text_color = "black"
    ax.axis_label_standoff = standoff


def build_panel(title, y_label, points, x_range, y_range, x_ticks, y_ticks, box,
                y_standoff, fit=None):
    """One ggplot-like scatter panel, coloured by hour, with a colour bar."""
    width, height, left, right, top, bottom = box
    frame_w = width - left - right
    p = figure(width=width, height=height, x_range=x_range, y_range=y_range,
               toolbar_location=None, output_backend="svg",
               min_border_left=left, min_border_right=right,
               min_border_top=top, min_border_bottom=bottom,
               background_fill_color="#E5E5E5", border_fill_color="white",
               outline_line_color=None)
    p.title.text = title
    p.title.align = "center"
    p.title.text_font = FONT
    p.title.text_font_size = "14.4px"
    p.title.text_font_style = "normal"
    p.title.text_color = "black"
    p.title.standoff = 2

    style_axis(p.xaxis[0], x_ticks[0], x_ticks[1], "Ambient Temperature°C", 3)
    style_axis(p.yaxis[0], y_ticks[0], y_ticks[1], y_label, y_standoff)
    p.grid.grid_line_color = "white"
    p.grid.grid_line_width = 1.1
    p.grid.minor_grid_line_color = "#F2F2F2"
    p.grid.minor_grid_line_width = 0.6

    xs, ys, hs = zip(*points)
    source = ColumnDataSource(data=dict(x=list(xs), y=list(ys), hour=list(hs)))
    p.scatter("x", "y", source=source, size=6.3,
              fill_color=transform("hour", hour_mapper), line_color=None)

    if fit is not None:
        fx, fy, lo, hi = fit
        p.varea(x=fx, y1=lo, y2=hi, fill_color="#8C8C8C", fill_alpha=0.4)
        p.line(fx, fy, line_color="#2020E0", line_width=1.3)

    # colour bar sits 18px right of the plot area, its bottom 55px above the axis
    bar = ColorBar(color_mapper=hour_mapper, ticker=FixedTicker(ticks=hour_ticks),
                   width=22, height=115,
                   major_label_text_font=FONT, major_label_text_font_size="9.6px",
                   major_label_text_color="#1A1A1A", label_standoff=4,
                   major_tick_line_color="white", major_tick_in=4, major_tick_out=0,
                   bar_line_color=None, border_line_color=None,
                   background_fill_color=None, padding=0, margin=0,
                   location=(frame_w + 18, 55))
    p.add_layout(bar)

    # horizontal legend title "hour" above the bar (an empty, invisible horizontal bar)
    head = ColorBar(color_mapper=hour_mapper, ticker=FixedTicker(ticks=[]),
                    orientation="horizontal", width=22, height=1, scale_alpha=0,
                    title="hour", title_standoff=1, title_text_font=FONT,
                    title_text_font_size="9.6px", title_text_font_style="bold",
                    title_text_color="black", major_label_text_alpha=0,
                    major_tick_line_color=None, minor_tick_line_color=None,
                    bar_line_color=None, border_line_color=None,
                    background_fill_color=None, padding=0, margin=0,
                    location=(frame_w + 18, 172))
    p.add_layout(head)
    return p


p1 = build_panel("Average Inside Fridge Temperature", "Inside Temperature°C", inside_temp_pts,
                 (1.07, 41.5), (-15.3, 89.7),
                 ([10, 20, 30, 40], [5, 15, 25, 35]),
                 ([0, 20, 40, 60, 80], [-10, 10, 30, 50, 70]),
                 (416, 322, 48, 93, 39, 45), 5,
                 (inside_fit_x, inside_fit_y, inside_fit_lo, inside_fit_hi))
p2 = build_panel("Fridge Energy Consumption", "Energy (Wh)", fridge_energy_pts,
                 (0.08, 40.76), (-325, 878),
                 ([10, 20, 30, 40], [5, 15, 25, 35]),
                 ([-300, 0, 300, 600], [-150, 150, 450, 750]),
                 (408, 322, 57, 85, 39, 45), 7,
                 (fridge_fit_x, fridge_fit_y, fridge_fit_lo, fridge_fit_hi))
p3 = build_panel("Household Energy Consumption", "Energy (Wh)", household_energy_pts,
                 (18.6, 40.0), (-138, 3152),
                 ([20, 25, 30, 35, 40], [22.5, 27.5, 32.5, 37.5]),
                 ([0, 1000, 2000, 3000], [500, 1500, 2500]),
                 (416, 314, 59, 93, 39, 37), 7,
                 (house_fit_x, house_fit_y, house_fit_lo, house_fit_hi))
p4 = build_panel("Door Openings", "No. Door Openings", door_open_pts,
                 (2.88, 40.5), (-0.7, 15.76),
                 ([10, 20, 30, 40], [5, 15, 25, 35]),
                 ([0, 5, 10, 15], [2.5, 7.5, 12.5]),
                 (408, 314, 48, 85, 39, 37), 6)

layout = column(row(p1, p2), row(p3, p4))
open("out.html", "w").write(file_html(layout, INLINE))
